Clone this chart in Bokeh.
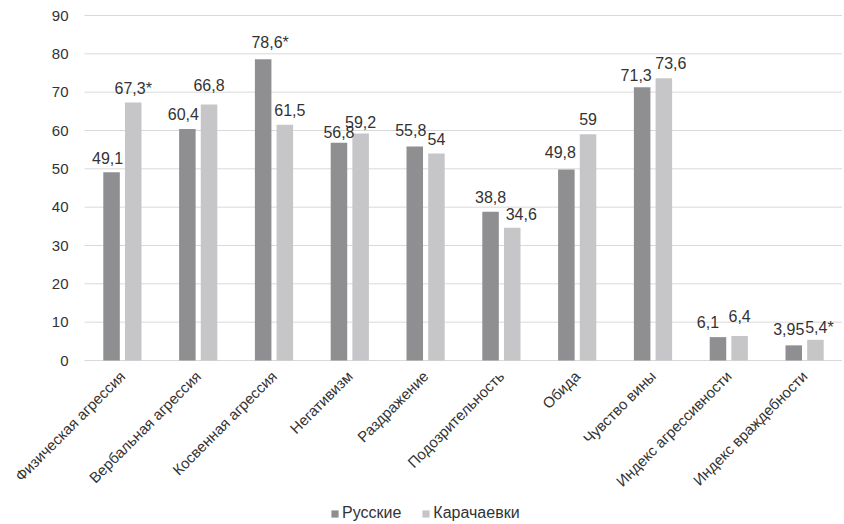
import math
from bokeh.plotting import figure
from bokeh.models import Range1d, ColumnDataSource, Legend, LegendItem, LabelSet
from bokeh.transform import dodge
from bokeh.core.properties import value
from bokeh.embed import file_html
from bokeh.resources import INLINE

categories = ["Физическая агрессия", "Вербальная агрессия", "Косвенная агрессия", "Негативизм",
              "Раздражение", "Подозрительность", "Обида", "Чувство вины",
              "Индекс агрессивности", "Индекс враждебности"]
russian = [49.1, 60.4, 78.6, 56.8, 55.8, 38.8, 49.8, 71.3, 6.1, 3.95]
karachay = [67.3, 66.8, 61.5, 59.2, 54, 34.6, 59, 73.6, 6.4, 5.4]
russian_labels = ["49,1", "60,4", "78,6*", "56,8", "55,8", "38,8", "49,8", "71,3", "6,1", "3,95"]
karachay_labels = ["67,3*", "66,8", "61,5", "59,2", "54", "34,6", "59", "73,6", "6,4", "5,4*"]
series_names = ["Русские", "Карачаевки"]
y_ticks = [0, 10, 20, 30, 40, 50, 60, 70, 80, 90]

# small label nudges (screen px), as in the original chart's manual placement
r_dx = [-4, -4, 7, 0, -4, 0, -6, -6, -10, -5]
r_dy = [-1, 0, 2, -4, 2, 0, 3, -3, 0, 1]
k_dx = [0, 0, 5, 0, 0, 9, 0, 7, 0, 4]
k_dy = [0, 4, 0, -3, 0, -1, 0, 0, 5, -2]

FONT = "Liberation Sans"
DARK = "#8f8f92"
LIGHT = "#c6c6c8"
TXT = "#333333"
GRID = "#d9d9d9"
GAP = 9

# layout (pixels): the whole picture is one frame; the value area sits inside it
W, H = 842, 524
LEFT = 84          # left edge of value area
TOP = 15           # y of value 90
ZERO_Y = 360       # y of value 0
BAND = (W - LEFT) / len(categories)
Y_MAX = 90
PX_PER_UNIT = (ZERO_Y - TOP) / Y_MAX
y_top = Y_MAX + TOP / PX_PER_UNIT
y_bottom = -(H - ZERO_Y) / PX_PER_UNIT
x_start = -0.5 - LEFT / BAND
x_end = len(categories) - 0.5

idx = list(range(len(categories)))
src = ColumnDataSource(dict(idx=idx, cat=categories, r=russian, k=karachay,
                            rl=russian_labels, kl=karachay_labels,
                            rdx=r_dx, rdy=[GAP + d for d in r_dy],
                            kdx=k_dx, kdy=[GAP + d for d in k_dy],
                            zero=[0] * len(categories)))
tick_src = ColumnDataSource(dict(y=y_ticks, t=[str(v) for v in y_ticks],
                                 x0=[-0.5] * len(y_ticks), x1=[x_end] * len(y_ticks)))

p = figure(frame_width=W, frame_height=H, x_range=Range1d(x_start, x_end),
           y_range=Range1d(y_bottom, y_top), x_axis_type=None, y_axis_type=None,
           output_backend="svg", toolbar_location=None,
           min_border_left=0, min_border_right=0, min_border_top=0, min_border_bottom=0)
p.outline_line_color = None
p.background_fill_color = "white"
p.border_fill_color = "white"

# horizontal grid lines at the value ticks
p.segment(x0="x0", x1="x1", y0="y", y1="y", source=tick_src, line_color=GRID, line_width=1)

OFF = 0.143
BW = 0.218
rb = p.vbar(x=dodge("idx", -OFF), top="r", bottom=0, width=BW, source=src,
            fill_color=DARK, line_color=None)
kb = p.vbar(x=dodge("idx", OFF), top="k", bottom=0, width=BW, source=src,
            fill_color=LIGHT, line_color=None)

for col, lab, off, dx, dy in (("r", "rl", -OFF, "rdx", "rdy"), ("k", "kl", OFF, "kdx", "kdy")):
    ls = LabelSet(x=dodge("idx", off), y=col, text=lab, source=src,
                  x_offset=dx, y_offset=dy,
                  text_align="center", text_baseline="alphabetic",
                  text_font=value(FONT), text_font_size=value("16px"), text_color=TXT)
    p.add_layout(ls)

# value-axis tick labels
ytl = LabelSet(x="x0", y="y", text="t", source=tick_src, x_offset=-16,
               text_align="right", text_baseline="middle",
               text_font=value(FONT), text_font_size=value("15px"), text_color=TXT)
p.add_layout(ytl)

# category labels, rotated 45 degrees, ending under each category
cat_labels = LabelSet(x="idx", y="zero", text="cat", source=src,
                      angle=math.pi / 4, x_offset=0, y_offset=-13,
                      text_align="right", text_baseline="middle",
                      text_font=value(FONT), text_font_size=value("15px"), text_color=TXT)
p.add_layout(cat_labels)

legend = Legend(items=[LegendItem(label=series_names[0], renderers=[rb]),
                       LegendItem(label=series_names[1], renderers=[kb])],
                orientation="horizontal", location=(330, 2),
                label_text_font=FONT, label_text_font_size="16px", label_text_color=TXT,
                label_height=16, glyph_width=9, glyph_height=9, label_standoff=3, spacing=20,
                border_line_color=None, background_fill_alpha=0, padding=0, margin=0)
p.add_layout(legend, "center")

open("out.html", "w").write(file_html(p, INLINE))
